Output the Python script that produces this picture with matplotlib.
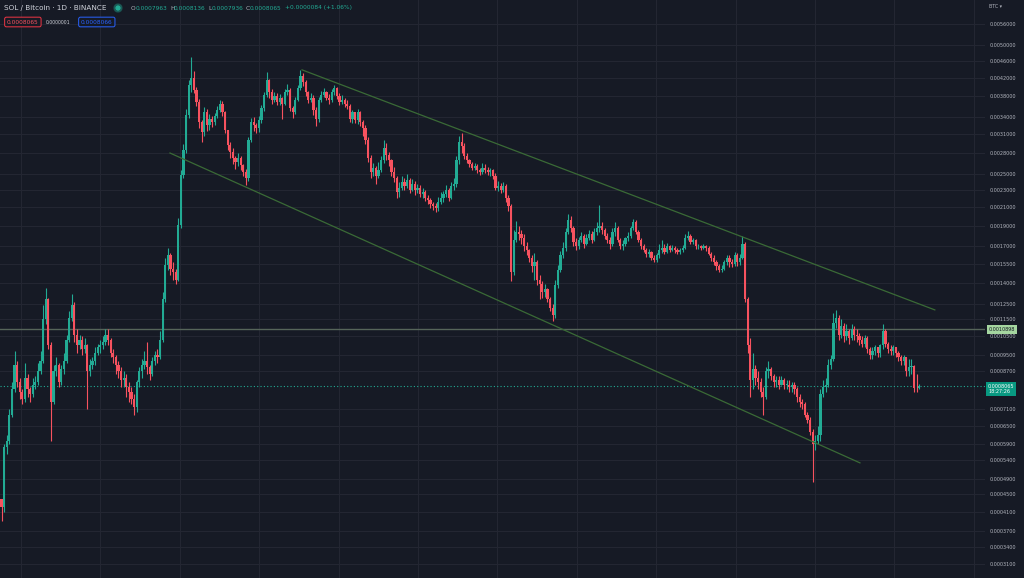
import numpy as np
import matplotlib
matplotlib.use("Agg")
from matplotlib import pyplot as plt
from matplotlib.patches import Ellipse
from matplotlib.transforms import blended_transform_factory

# SOL / BTC, one candle per 2 days, prices in units of 1e-4 BTC
first_open = 4.4
closes = [
    4.2, 5.8, 6.0, 6.9, 7.9, 9.0, 8.2, 7.8, 7.5, 8.4,
    7.9, 7.7, 8.1, 8.2, 8.7, 9.2, 11.5, 12.8, 10.0, 7.4,
    8.7, 9.0, 8.2, 8.8, 9.2, 10.3, 11.6, 12.4, 10.6, 10.0,
    10.3, 9.8, 10.0, 8.7, 9.0, 9.2, 9.6, 9.9, 10.0, 10.2,
    10.6, 10.3, 9.6, 9.4, 9.0, 8.7, 8.3, 8.4, 8.0, 7.8,
    7.5, 7.2, 8.2, 8.7, 9.0, 9.2, 8.9, 8.6, 9.2, 9.5,
    9.4, 10.3, 12.8, 15.4, 16.2, 15.1, 14.8, 14.2, 19.1, 24.9,
    28.5, 34.4, 40.4, 41.9, 39.3, 36.9, 33.1, 31.4, 34.9, 32.6,
    33.6, 33.1, 34.2, 35.3, 36.5, 34.9, 31.7, 29.3, 28.2, 27.3,
    26.7, 27.3, 26.3, 25.3, 24.5, 30.1, 33.1, 32.6, 32.0, 33.5,
    35.7, 38.3, 41.5, 38.9, 37.3, 38.1, 36.9, 37.7, 36.5, 38.9,
    39.3, 35.7, 34.9, 37.3, 39.7, 42.4, 41.0, 38.9, 37.3, 37.7,
    35.3, 33.6, 37.3, 38.3, 38.9, 37.7, 37.3, 38.9, 39.7, 38.1,
    36.9, 37.3, 36.5, 36.1, 33.6, 34.9, 33.5, 34.9, 33.1, 32.0,
    30.1, 27.3, 25.3, 25.9, 24.8, 25.6, 27.0, 28.8, 27.8, 27.0,
    25.3, 24.5, 22.8, 23.3, 24.0, 23.5, 24.3, 23.0, 23.8, 23.0,
    23.3, 22.5, 22.8, 22.0, 21.8, 21.3, 21.1, 20.9, 21.6, 22.0,
    22.5, 23.0, 22.0, 23.5, 23.8, 27.0, 29.8, 29.1, 27.6, 27.0,
    26.4, 25.9, 26.2, 25.6, 25.3, 25.9, 25.6, 25.3, 25.6, 24.8,
    23.3, 23.5, 23.0, 23.5, 22.0, 21.1, 14.8, 17.6, 18.4, 18.2,
    17.8, 17.0, 16.7, 16.0, 15.3, 15.6, 14.2, 13.9, 13.3, 13.5,
    12.8, 12.2, 11.8, 13.8, 15.0, 16.2, 16.9, 18.4, 19.6, 18.8,
    17.4, 17.0, 17.6, 18.0, 17.2, 17.8, 18.2, 17.6, 18.4, 18.8,
    19.0, 18.6, 18.0, 17.6, 17.2, 18.4, 18.8, 17.6, 17.0, 17.2,
    17.8, 18.0, 18.8, 19.4, 18.4, 17.6, 17.0, 16.7, 16.3, 16.5,
    16.0, 15.8, 16.2, 16.7, 16.9, 16.5, 17.0, 16.7, 16.9, 16.7,
    16.5, 16.7, 16.9, 17.8, 18.0, 17.4, 17.6, 17.0, 17.0, 16.9,
    17.0, 16.9, 16.3, 16.0, 15.6, 15.3, 15.0, 15.1, 15.6, 16.0,
    15.6, 15.5, 16.2, 15.6, 16.0, 17.2, 12.8, 10.0, 8.3, 8.8,
    8.4, 8.2, 7.8, 7.6, 8.7, 8.8, 8.5, 8.2, 8.3, 8.1,
    8.3, 8.1, 8.1, 8.0, 8.1, 7.9, 7.6, 7.4, 7.3, 6.9,
    6.7, 6.3, 5.9, 6.0, 6.2, 7.7, 8.0, 8.1, 9.0, 9.3,
    11.3, 11.6, 10.6, 11.1, 10.5, 10.8, 10.4, 10.9, 10.6, 10.5,
    10.3, 10.1, 10.4, 9.8, 9.5, 9.7, 9.9, 9.6, 10.0, 10.8,
    10.1, 9.8, 9.7, 9.9, 9.6, 9.4, 9.2, 9.4, 8.7, 8.9,
    8.95, 7.97, 7.963, 8.065,
]
highs = [
    4.4, 5.9, 6.2, 7.1, 8.2, 9.7, 9.2, 8.4, 7.9, 9.1,
    8.6, 8.0, 8.4, 8.5, 9.1, 9.7, 12.4, 13.6, 12.9, 10.2,
    9.0, 9.4, 9.1, 9.0, 9.6, 10.6, 12.0, 13.2, 12.6, 10.9,
    10.6, 10.5, 10.4, 10.1, 9.3, 9.4, 9.9, 10.1, 10.3, 10.5,
    10.9, 10.9, 10.4, 9.8, 9.5, 9.2, 8.9, 8.7, 8.6, 8.2,
    8.0, 7.7, 8.3, 8.9, 9.3, 9.7, 10.2, 9.0, 9.4, 9.7,
    9.8, 10.8, 13.3, 16.0, 16.9, 16.4, 15.6, 15.1, 19.8, 25.6,
    29.5, 35.5, 41.5, 46.9, 43.5, 40.0, 37.5, 33.5, 35.8, 35.5,
    34.5, 34.2, 34.8, 36.0, 37.3, 37.0, 35.2, 31.8, 29.8, 28.8,
    27.6, 28.0, 27.6, 26.4, 25.8, 30.6, 33.8, 34.0, 33.0, 34.2,
    36.2, 38.8, 43.2, 41.8, 39.5, 38.9, 38.6, 38.4, 37.9, 39.6,
    40.6, 39.8, 36.0, 37.8, 40.3, 43.8, 43.0, 41.5, 39.2, 38.6,
    38.2, 35.8, 37.9, 39.2, 39.8, 39.2, 38.4, 39.5, 40.4, 40.0,
    38.6, 38.2, 37.6, 37.2, 36.4, 35.4, 35.0, 35.6, 35.2, 33.4,
    32.6, 30.6, 27.8, 26.6, 26.2, 26.8, 27.6, 30.0, 29.6, 28.2,
    27.2, 26.0, 24.8, 24.0, 24.8, 24.6, 25.1, 24.6, 24.4, 24.2,
    23.8, 23.6, 23.2, 23.0, 22.4, 22.0, 21.6, 21.5, 22.2, 22.8,
    22.9, 23.6, 23.3, 24.0, 24.6, 27.6, 30.8, 31.2, 29.6, 28.0,
    27.2, 26.8, 26.6, 26.4, 25.9, 26.6, 26.4, 26.0, 25.9, 25.8,
    25.2, 24.2, 23.9, 24.0, 23.8, 22.4, 21.4, 18.6, 19.5, 19.0,
    18.6, 18.2, 17.4, 16.8, 16.2, 16.4, 15.8, 14.6, 14.1, 13.9,
    13.6, 13.0, 12.5, 14.2, 15.4, 16.6, 17.4, 18.8, 20.2, 20.0,
    19.0, 17.8, 17.9, 18.4, 18.2, 18.2, 18.6, 18.5, 18.8, 19.4,
    21.2, 19.4, 18.8, 18.3, 17.9, 18.8, 19.4, 19.0, 17.8, 17.6,
    17.9, 18.4, 19.0, 19.7, 19.6, 18.6, 17.8, 17.2, 16.9, 16.8,
    16.6, 16.2, 16.4, 17.2, 17.6, 17.2, 17.3, 17.1, 17.1, 17.0,
    16.9, 16.9, 17.1, 18.2, 18.5, 18.2, 17.8, 17.7, 17.2, 17.1,
    17.2, 17.1, 17.0, 16.5, 16.2, 15.8, 15.5, 15.4, 15.8, 16.2,
    16.2, 15.9, 16.5, 16.4, 16.3, 18.0, 17.4, 13.0, 10.4, 9.6,
    9.0, 8.7, 8.4, 8.0, 8.9, 9.2, 8.9, 8.6, 8.5, 8.5,
    8.5, 8.4, 8.3, 8.3, 8.2, 8.2, 8.0, 7.7, 7.5, 7.4,
    7.0, 6.8, 6.4, 6.2, 6.5, 7.9, 8.3, 8.4, 9.3, 9.5,
    11.9, 12.1, 11.8, 11.5, 11.3, 11.2, 10.9, 11.2, 11.1, 10.9,
    10.7, 10.5, 10.6, 10.5, 9.9, 9.9, 10.0, 9.9, 10.1, 11.2,
    10.9, 10.2, 10.0, 10.0, 9.9, 9.7, 9.5, 9.5, 9.4, 9.3,
    9.3, 9.0, 8.6, 8.136,
]
lows = [
    3.9, 4.1, 5.6, 5.9, 6.8, 7.8, 8.0, 7.5, 7.3, 7.4,
    7.6, 7.4, 7.6, 7.9, 8.1, 8.6, 9.1, 11.2, 9.8, 6.0,
    7.3, 8.5, 8.0, 8.1, 8.6, 9.1, 10.2, 11.4, 10.2, 9.6,
    9.8, 9.5, 9.6, 7.1, 8.5, 8.8, 9.0, 9.5, 9.6, 9.8,
    10.0, 10.0, 9.4, 9.1, 8.6, 8.4, 8.0, 8.0, 7.6, 7.4,
    7.3, 6.9, 7.0, 8.0, 8.4, 8.8, 8.6, 8.3, 8.5, 9.0,
    9.1, 9.3, 10.2, 12.6, 15.0, 14.6, 14.2, 13.9, 14.1, 18.8,
    24.6, 28.0, 33.8, 39.0, 38.6, 36.0, 32.0, 29.8, 30.8, 31.6,
    31.8, 32.2, 32.6, 33.8, 35.0, 34.2, 31.2, 28.5, 27.3, 26.4,
    25.8, 26.2, 25.6, 24.8, 23.6, 24.2, 29.8, 31.6, 31.2, 31.4,
    33.0, 35.2, 37.8, 37.6, 36.4, 36.8, 36.2, 36.3, 33.6, 36.2,
    38.2, 35.2, 33.9, 34.6, 37.0, 39.4, 40.2, 38.0, 36.6, 36.9,
    34.3, 32.4, 33.2, 36.9, 37.8, 37.2, 36.5, 36.8, 38.2, 37.4,
    36.2, 36.4, 35.8, 35.6, 33.1, 33.0, 32.9, 32.8, 32.4, 30.8,
    29.4, 26.8, 24.6, 24.8, 23.8, 24.6, 25.4, 26.6, 27.0, 26.2,
    24.8, 24.0, 22.0, 22.2, 23.0, 23.0, 23.2, 22.6, 22.9, 22.4,
    22.6, 22.2, 22.1, 21.7, 21.3, 20.9, 20.7, 20.4, 20.6, 21.4,
    21.6, 22.2, 21.7, 21.9, 23.0, 23.4, 26.5, 28.0, 27.2, 26.6,
    26.0, 25.6, 25.6, 25.2, 24.9, 25.0, 25.2, 24.9, 24.8, 24.4,
    23.0, 22.9, 22.6, 22.8, 21.6, 20.6, 14.1, 14.6, 17.4, 17.6,
    17.2, 16.6, 16.2, 15.6, 14.8, 14.2, 13.8, 12.8, 12.9, 13.0,
    12.6, 12.0, 11.4, 11.6, 13.6, 14.8, 16.0, 16.6, 18.2, 18.4,
    17.0, 16.7, 16.8, 17.4, 16.9, 17.1, 17.6, 17.3, 17.5, 18.1,
    18.4, 18.2, 17.7, 17.3, 16.8, 17.0, 18.0, 17.4, 16.8, 16.7,
    17.0, 17.5, 17.8, 18.6, 18.2, 17.4, 16.8, 16.5, 16.1, 16.1,
    15.8, 15.6, 15.6, 16.0, 16.4, 16.3, 16.4, 16.5, 16.6, 16.4,
    16.3, 16.3, 16.5, 16.8, 17.6, 17.2, 17.2, 16.8, 16.8, 16.7,
    16.8, 16.6, 16.2, 15.7, 15.4, 15.0, 14.8, 14.8, 15.0, 15.4,
    15.2, 15.2, 15.3, 15.3, 15.4, 15.9, 12.6, 9.6, 7.6, 7.9,
    8.1, 7.9, 7.6, 6.9, 7.5, 8.4, 8.3, 8.0, 8.0, 7.9,
    8.1, 7.9, 7.9, 7.8, 7.8, 7.7, 7.4, 7.2, 7.1, 6.8,
    6.6, 6.2, 4.8, 5.7, 5.9, 6.0, 7.6, 7.8, 8.0, 8.8,
    9.2, 11.0, 10.3, 10.4, 10.2, 10.3, 10.1, 10.3, 10.3, 10.2,
    10.0, 9.9, 9.9, 9.6, 9.3, 9.3, 9.5, 9.4, 9.4, 9.8,
    9.9, 9.6, 9.5, 9.5, 9.4, 9.2, 9.0, 9.0, 8.5, 8.5,
    8.6, 7.8, 7.8, 7.936,
]

# channel lines: (candle index, price)
upper_trend_x = [115.6, 359.0]
upper_trend_y = [43.8, 12.1]
lower_trend_x = [64.8, 330.2]
lower_trend_y = [28.05, 5.33]

alert_price = 10.898
last_price = 8.065

tick_prices = [56, 50, 46, 42, 38, 34, 31, 28, 25, 23, 21, 19, 17, 15.5, 14,
               12.5, 11.5, 10.5, 9.5, 8.7, 7.1, 6.5, 5.9, 5.4, 4.9, 4.5, 4.1,
               3.7, 3.4, 3.1]

bg = "#161a25"
up_col = "#22ab94"
down_col = "#f7525f"
grid_col = "#232632"
text_col = "#b2b5be"

W, H = 1024, 578
def px(x, y):
    return x / W, 1 - y / H

fig = plt.figure(figsize=(W / 100, H / 100), dpi=100, facecolor=bg)
ax = fig.add_axes([0, 0, 985 / W, 1])
ax.set_facecolor(bg)
ax.set_yscale("log")
ax.set_xlim(-0.58, 378.3)
ax.set_ylim(2.876, 63.69)

# candles
o = np.array([first_open] + closes[:-1])
c = np.array(closes)
h = np.array(highs)
l = np.array(lows)
idx = np.arange(len(c))
cols = np.where(c >= o, up_col, down_col)
ax.vlines(idx, l, h, colors=cols, lw=0.8, zorder=3)
ax.bar(idx, np.maximum(np.abs(c - o), 0.02), bottom=np.minimum(o, c),
       width=0.85, color=cols, linewidth=0, zorder=4)

# drawings
ax.plot(upper_trend_x, upper_trend_y, color="#3a6a36", lw=0.9, zorder=5)
ax.plot(lower_trend_x, lower_trend_y, color="#3a6a36", lw=0.9, zorder=5)
ax.axhline(alert_price, color="#56655a", lw=1.0, zorder=2)
ax.axhline(last_price, color=up_col, lw=0.8, ls=(0, (1, 2)), zorder=2)

# grid + price scale
ax.set_yticks(tick_prices)
ax.set_yticklabels([f"{p * 1e-4:.7f}" for p in tick_prices])
ax.yaxis.set_minor_locator(plt.NullLocator())
ax.yaxis.set_minor_formatter(plt.NullFormatter())
ax.set_xticks(np.arange(7.5, 378, 30.54))
ax.tick_params(axis="x", length=0, labelbottom=False)
ax.tick_params(axis="y", length=0, labelleft=False, labelright=True,
               pad=3, labelsize=3.5, labelcolor=text_col)
ax.grid(True, color=grid_col, lw=0.8, zorder=0)
for s in ax.spines.values():
    s.set_visible(False)

trans = blended_transform_factory(ax.transAxes, ax.transData)
ax.text(1.004, alert_price, "0.0010898", transform=trans, fontsize=3.5,
        color="#131722", va="center", ha="left", clip_on=False,
        bbox=dict(boxstyle="square,pad=0.35", fc="#a5d6a0", ec="none"))
fig.text(*px(988, 389), "0.0008065\n18:27:26", fontsize=3.5, color="white",
         va="center", ha="left", linespacing=1.1,
         bbox=dict(boxstyle="square,pad=0.35", fc="#089981", ec="none"))
fig.text(*px(989, 7), "BTC \u25be", fontsize=3.4, color=text_col, va="center")

# header
fig.text(*px(4, 8), "SOL / Bitcoin \u00b7 1D \u00b7 BINANCE", fontsize=5.2,
         color="#d1d4dc", va="center")
fig.add_artist(Ellipse(px(118, 8), 8 / W, 8 / H, color="#22ab94", alpha=0.3,
                       transform=fig.transFigure))
fig.add_artist(Ellipse(px(118, 8), 4 / W, 4 / H, color="#22ab94",
                       transform=fig.transFigure))
ohlc = [("O", 131, "#b2b5be"), ("0.0007963", 135.5, up_col),
        ("H", 170, "#b2b5be"), ("0.0008136", 174, up_col),
        ("L", 208, "#b2b5be"), ("0.0007936", 212, up_col),
        ("C", 245.5, "#b2b5be"), ("0.0008065", 250, up_col),
        ("+0.0000084 (+1.06%)", 285, up_col)]
for txt, x, col in ohlc:
    fig.text(*px(x, 8), txt, fontsize=4.2, color=col, va="center")

fig.text(*px(7, 22), "0.0008065", fontsize=4.2, color="#f7525f", va="center",
         bbox=dict(boxstyle="round,pad=0.4,rounding_size=0.3", fc=bg,
                   ec="#f23645", lw=0.7))
fig.text(*px(46, 22), "0.0000001", fontsize=3.3, color="#d1d4dc", va="center")
fig.text(*px(81, 22), "0.0008066", fontsize=4.2, color="#2962ff", va="center",
         bbox=dict(boxstyle="round,pad=0.4,rounding_size=0.3", fc=bg,
                   ec="#2962ff", lw=0.7))

fig.savefig("out.png", dpi=100, facecolor=bg)
